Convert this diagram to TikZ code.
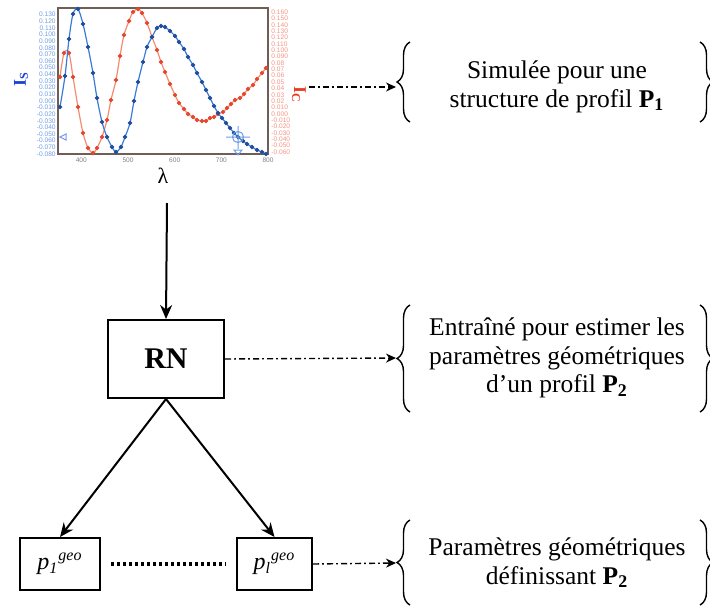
\documentclass[tikz,border=0pt]{standalone}
\usepackage{fontspec}
\setmainfont{Liberation Serif}
\setsansfont{Liberation Sans}
\usetikzlibrary{arrows.meta,decorations.pathreplacing}

\definecolor{curveblue}{HTML}{3A7BD8}
\definecolor{markblue}{HTML}{1F4E9C}
\definecolor{curvered}{HTML}{F58A72}
\definecolor{markred}{HTML}{E5472E}
\definecolor{tickblue}{HTML}{6E9DE6}
\definecolor{tickred}{HTML}{F49484}
\definecolor{plotframe}{HTML}{6E5E56}
\definecolor{labelblue}{HTML}{1B3FD6}
\definecolor{labelred}{HTML}{E8381E}

\tikzset{
  box/.style={draw, line width=1pt, inner sep=0pt},
  note/.style={align=center, font=\fontsize{12.75}{14.2}\selectfont},
  link/.style={line width=1pt, -{Stealth[length=7pt,width=6pt]}},
  dd/.style={line width=0.7pt, dash pattern=on 3pt off 1.6pt on 0.8pt off 1.6pt,
    -{Stealth[length=5pt,width=4.5pt]}},
  curly/.style={decorate, decoration={brace, amplitude=6.5pt}, line width=0.7pt},
  tickl/.style={inner sep=0pt, font=\fontsize{3.3}{3.5}\selectfont\sffamily},
}

\begin{document}
\begin{tikzpicture}[x=0.5pt, y=-0.5pt]
  \useasboundingbox (0,0) rectangle (710,605);

  % --- simulated spectrum
  \draw[plotframe, line width=0.6pt] (58,8) rectangle (268,154);
  \foreach \v [count=\i from 0] in {0.130,0.120,0.110,0.100,0.090,0.080,0.070,0.060,0.050,0.040,0.030,0.020,0.010,0.000,-0.010,-0.020,-0.030,-0.040,-0.050,-0.060,-0.070,-0.080}
    \node[tickl, text=tickblue, anchor=east] at (56, {14.6+6.636*\i}) {\v};
  \foreach \v [count=\i from 0] in {0.160,0.150,0.140,0.130,0.120,0.110,0.100,0.090,0.08,0.07,0.06,0.05,0.04,0.03,0.02,0.010,0.000,-0.010,-0.020,-0.030,-0.040,-0.050,-0.060}
    \node[tickl, text=tickred, anchor=west] at (271, {12+6.364*\i}) {\v};
  \foreach \l in {400,500,600,700,800}
    \node[tickl, text=gray] at ({58+(\l-350)*0.4667}, 160) {\l};

  \draw[curvered, line width=0.6pt, mark=*, mark size=0.8pt,
        mark options={markred}] plot[smooth] coordinates {
    (60,77) (64,53) (69,53) (73,77) (78,107) (83,133) (88,148) (93,153)
    (97,148) (102,137) (107,120) (111,100) (116,80) (120,56) (124,35)
    (129,21) (133,12) (138,9) (142,13) (147,23) (152,37) (157,50) (161,62)
    (165,72) (170,84) (175,95) (179,103) (184,109) (188,114) (193,117)
    (197,120) (202,121) (206,121) (210,118) (214,117) (218,114) (223,112)
    (227,108) (231,104) (235,100) (240,98) (244,94) (248,89) (253,85)
    (257,79) (262,73) (266,68)};
  \draw[curveblue, line width=0.6pt, mark=*, mark size=0.8pt,
        mark options={markblue}] plot[smooth] coordinates {
    (60,107) (65,76) (69,39) (73,14) (78,9) (83,24) (88,47) (93,73)
    (97,98) (102,122) (107,137) (112,147) (116,152) (121,147) (125,137)
    (130,123) (134,101) (138,82) (143,62) (147,47) (152,37) (157,28)
    (161,26) (165,27) (170,31) (175,36) (179,42) (184,49) (188,57)
    (193,65) (197,73) (202,82) (206,90) (210,98) (214,106) (218,113)
    (222,118) (226,123) (230,128) (234,133) (238,137) (243,141) (247,144)
    (252,147) (257,150) (262,152) (266,154)};

  % cursor marks
  \draw[tickblue, line width=0.5pt] (238,137) circle[radius=2.8pt]
    (226,137) -- (250,137) (238,126) -- (238,149);
  \draw[tickblue, line width=0.5pt] (234,150) -- (242,150) -- (238,155) -- cycle;
  \draw[tickblue, line width=0.5pt] (66,134) -- (66,140) -- (60,137) -- cycle;

  \node[rotate=90, text=labelblue, inner sep=0pt,
        font=\fontsize{9}{9}\selectfont\bfseries] (is) at (21,79) {I\textsubscript{S}};
  \node[rotate=-90, text=labelred, inner sep=0pt,
        font=\fontsize{9}{9}\selectfont\bfseries] (ic) at (299,95) {I\textsubscript{C}};
  \node[inner sep=0pt, font=\fontsize{11}{11}\selectfont] (lambda) at (163,176) {λ};

  \coordinate (chartE) at (309,87);
  \coordinate (chartS) at (167,203);

  % --- network and outputs
  \node[box, minimum width=58pt, minimum height=39pt,
        font=\fontsize{15}{15}\selectfont\bfseries] (rn) at (166,359) {RN};
  \node[box, minimum width=40pt, minimum height=26pt,
        font=\fontsize{12}{12}\selectfont] (p1) at (60,564)
    {\textit{p}\textsubscript{\textit{1}}\textsuperscript{\textit{geo}}};
  \node[box, minimum width=37.5pt, minimum height=26pt,
        font=\fontsize{12}{12}\selectfont] (pl) at (274.5,564)
    {\textit{p}\textsubscript{\textit{l}}\textsuperscript{\textit{geo}}};

  \draw[link] (chartS) -- (rn.north);
  \draw[link] (rn.south) -- (p1.north);
  \draw[link] (rn.south) -- (pl.north);
  \draw[line width=2pt, dash pattern=on 1.6pt off 1.4pt, shorten <=5pt, shorten >=5pt]
    (p1.east) -- (pl.west);

  % --- comments on the right
  \coordinate (tip1) at (396,87);
  \coordinate (tip2) at (396,358);
  \coordinate (tip3) at (396,563);
  \draw[curly] (410,122) -- (410,42);
  \draw[curly] (700,42) -- (700,122);
  \draw[curly] (410,412) -- (410,305);
  \draw[curly] (700,305) -- (700,412);
  \draw[curly] (410,605) -- (410,520);
  \draw[curly] (700,520) -- (700,605);

  \node[note] (n1) at (557,87) {Simulée pour une\\structure de profil \textbf{P\textsubscript{1}}};
  \node[note] (n2) at (557,358) {Entraîné pour estimer les\\paramètres géométriques\\d’un profil \textbf{P\textsubscript{2}}};
  \node[note] (n3) at (557,563) {Paramètres géométriques\\définissant \textbf{P\textsubscript{2}}};

  \draw[dd] (chartE) -- (tip1);
  \draw[dd] (rn.east) -- (tip2);
  \draw[dd] (pl.east) -- (tip3);
\end{tikzpicture}
\end{document}
